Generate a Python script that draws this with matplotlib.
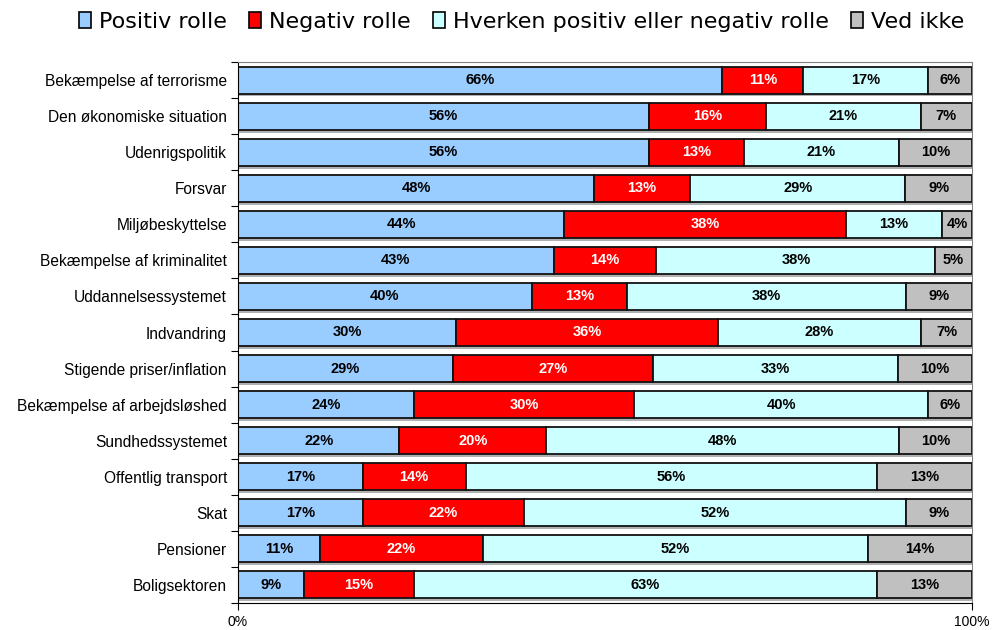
import matplotlib
matplotlib.use("Agg")
import matplotlib.pyplot as plt
from matplotlib.patches import Patch
import numpy as np

categories = [
    "Bekæmpelse af terrorisme",
    "Den økonomiske situation",
    "Udenrigspolitik",
    "Forsvar",
    "Miljøbeskyttelse",
    "Bekæmpelse af kriminalitet",
    "Uddannelsessystemet",
    "Indvandring",
    "Stigende priser/inflation",
    "Bekæmpelse af arbejdsløshed",
    "Sundhedssystemet",
    "Offentlig transport",
    "Skat",
    "Pensioner",
    "Boligsektoren",
]
positiv = [66, 56, 56, 48, 44, 43, 40, 30, 29, 24, 22, 17, 17, 11, 9]
negativ = [11, 16, 13, 13, 38, 14, 13, 36, 27, 30, 20, 14, 22, 22, 15]
hverken = [17, 21, 21, 29, 13, 38, 38, 28, 33, 40, 48, 56, 52, 52, 63]
vedikke = [6, 7, 10, 9, 4, 5, 9, 7, 10, 6, 10, 13, 9, 14, 13]

series_names = ["Positiv rolle", "Negativ rolle", "Hverken positiv eller negativ rolle", "Ved ikke"]
series_vals = [positiv, negativ, hverken, vedikke]
colors = ["#99ccff", "#ff0000", "#ccffff", "#c0c0c0"]
text_colors = ["black", "white", "black", "black"]

plt.rcParams['font.family'] = ['Liberation Sans', 'DejaVu Sans']

fig = plt.figure(figsize=(9.93, 6.3), dpi=100)
ax = fig.add_axes([238/993, 1 - 603/630, (972 - 238)/993, (603 - 62)/630])

n = len(categories)
y = np.arange(n)
h = 0.75

raw = np.array(series_vals, dtype=float)
totals = raw.sum(axis=0)
shares = raw / totals * 100.0  # 100% stacked

# drop shadow
ax.barh(y + 0.08, shares.sum(axis=0), height=h, color="#b0b0b0", edgecolor="none", zorder=1)

left = np.zeros(n)
for vals, widths, c, tc in zip(raw, shares, colors, text_colors):
    ax.barh(y, widths, left=left, height=h, color=c, edgecolor="#111111", linewidth=1.3, zorder=2)
    for yi, (l, w, v) in enumerate(zip(left, widths, vals)):
        ax.text(l + w / 2, yi, f"{int(v)}%", ha="center", va="center",
                color=tc, fontsize=10.5, fontweight="bold", zorder=3)
    left += widths

ax.set_xlim(0, 100)
ax.set_ylim(n - 0.5, -0.5)
ax.set_yticks(y)
ax.set_yticklabels(categories, fontsize=11.2)
ax.set_yticks(np.arange(-0.5, n, 1), minor=True)
ax.tick_params(axis="y", which="major", length=0, pad=8)
ax.tick_params(axis="y", which="minor", length=5, width=0.8, direction="out")
ax.set_xticks([0, 100])
ax.set_xticklabels(["0%", "100%"], fontsize=10)
ax.tick_params(axis="x", length=5, width=0.8, direction="out", pad=4)

for s in ["left", "bottom"]:
    ax.spines[s].set_color("black")
    ax.spines[s].set_linewidth(0.8)
for s in ["top", "right"]:
    ax.spines[s].set_color("#808080")
    ax.spines[s].set_linewidth(0.8)

handles = [Patch(facecolor=c, edgecolor="black", linewidth=1.2) for c in colors]
fig.legend(handles, series_names, loc="center left", bbox_to_anchor=(70/993, 1 - 22/630),
           ncol=4, frameon=False, handlelength=0.55, handleheight=0.7,
           handletextpad=0.35, columnspacing=1.0, borderaxespad=0,
           prop={'family': ['DejaVu Sans'], 'size': 16})

fig.savefig("out.png", dpi=100)
